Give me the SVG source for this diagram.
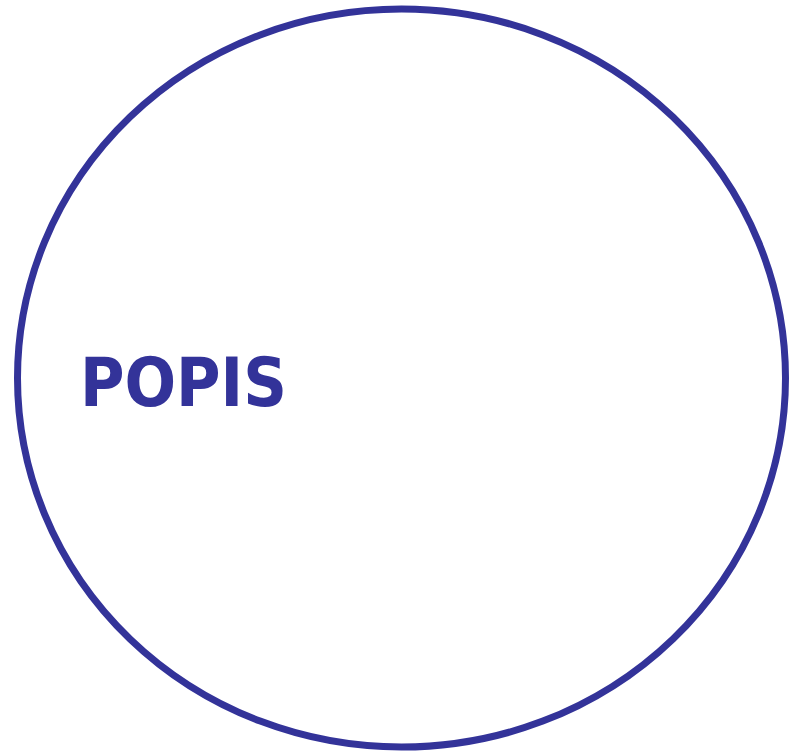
<svg xmlns="http://www.w3.org/2000/svg" width="789" height="753" viewBox="0 0 789 753">
<style>
.shape{fill:#ffffff;stroke:#333399;stroke-width:7}
.label{font-family:"DejaVu Sans Condensed","DejaVu Sans",sans-serif;font-stretch:condensed;font-weight:700;font-size:67.5px;fill:#333399}
</style>
<rect width="789" height="753" fill="#ffffff"/>
<g id="popis">
<ellipse class="shape" cx="401.5" cy="378" rx="384" ry="369"/>
<text class="label" x="80" y="406">POPIS</text>
</g>
<g id="connectors"/>
</svg>
